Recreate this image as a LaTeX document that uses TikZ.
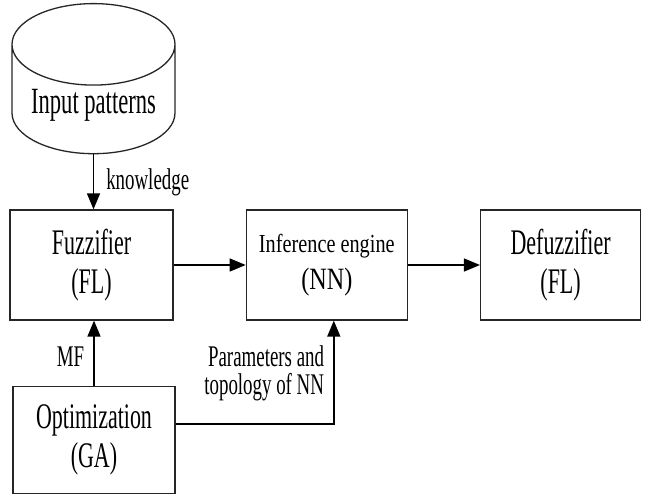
\documentclass[tikz,border=0pt]{standalone}
\usepackage{fontspec}
\setmainfont{Liberation Serif}[FakeStretch=0.61]
\newfontfamily\midfont{Liberation Serif}[FakeStretch=0.78]
\newfontfamily\lblfont{Liberation Serif}[FakeStretch=0.63]
\usepackage{tikz}
\usetikzlibrary{shapes.geometric,positioning,arrows.meta}

\begin{document}
\begin{tikzpicture}[x=1pt, y=-1pt,
        block/.style={draw=black!85, line width=1.3pt, rectangle, minimum width=163pt, minimum height=110pt, inner sep=0pt, align=center, font=\fontsize{36}{39}\selectfont},
        lbl/.style={font=\lblfont\fontsize{30}{28}\selectfont, align=right},
        arr/.style={-{Triangle[length=16pt,width=13pt]}, line width=1.5pt}]
        \useasboundingbox (0,0) rectangle (646,494);
        % Nodes
        \node (fuzz) [block] at (91.5,265) {Fuzzifier\\(FL)};
        \node (infer) [block, right=72pt of fuzz, minimum width=161pt, font=\midfont\fontsize{26}{37}\selectfont] {Inference engine\\{\fontsize{31}{37}\selectfont(NN)}};
        \node (defuzz) [block, right=72pt of infer, minimum width=160pt] {Defuzzifier\\(FL)};
        \node (opt) [block, below=65pt of fuzz, xshift=2.5pt, minimum width=162pt, minimum height=107pt] {Optimization\\(GA)};
        \node (input) [draw=black!85, line width=1.3pt, cylinder, shape border rotate=90, aspect=0.62, minimum width=163pt, minimum height=145pt, above=55pt of fuzz, xshift=2pt, font=\fontsize{37}{39}\selectfont] {Input patterns};

        % Arrows
        \draw [arr] (input.south) -- (input.south |- fuzz.north) node [lbl, midway, right, inner sep=12pt] {knowledge};
        \draw [arr] (fuzz) -- (infer);
        \draw [arr] (infer) -- (defuzz);
        \draw [arr] (opt.north) -- (opt.north |- fuzz.south) node [lbl, pos=0.45, left, inner sep=9pt] {MF};
        \draw [arr] ([yshift=16pt]opt.east) -| ([xshift=7pt]infer.south) node [lbl, pos=0.745, left, inner sep=9pt] {Parameters and\\topology of NN};
    \end{tikzpicture}
\end{document}
